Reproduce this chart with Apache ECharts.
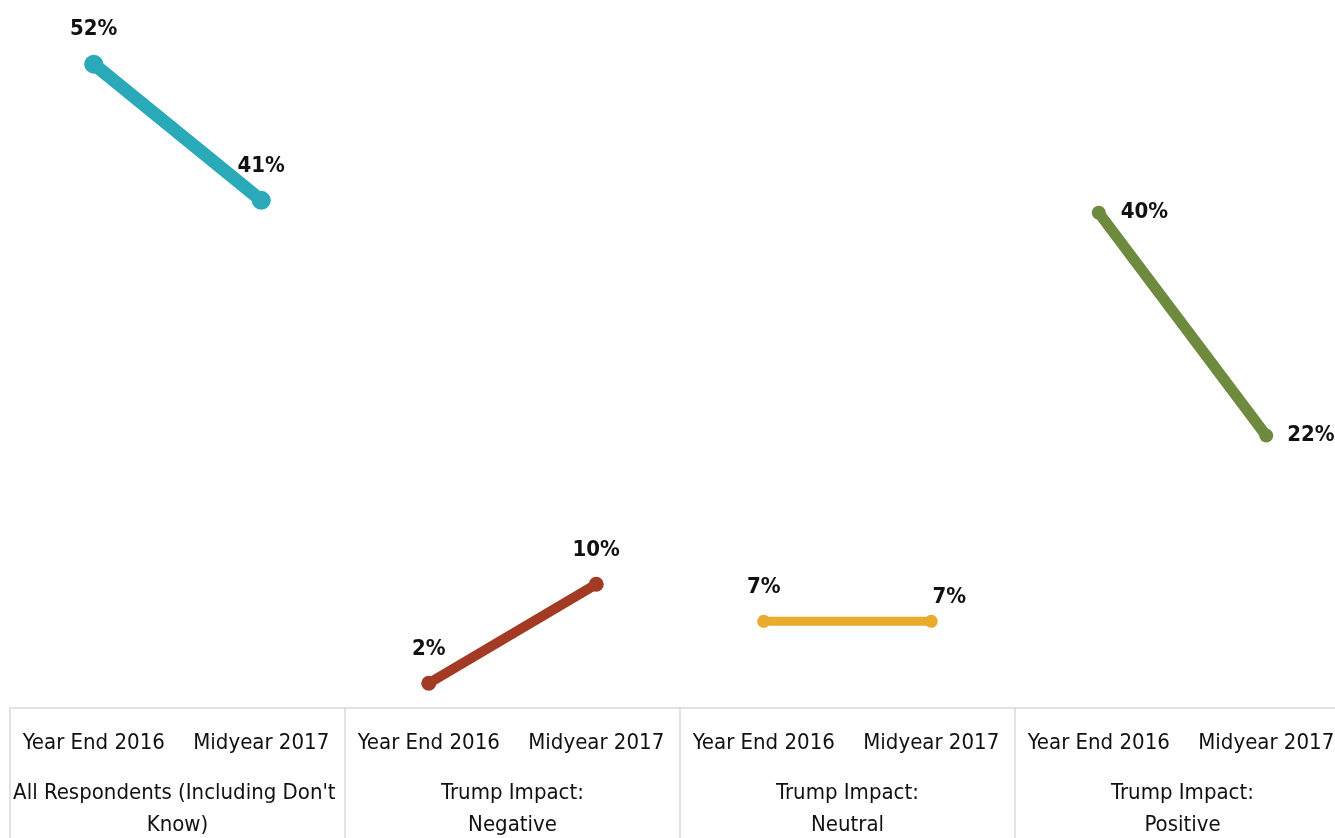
<!DOCTYPE html>
<html><head><meta charset="utf-8">
<script src="https://cdn.jsdelivr.net/npm/echarts@6/dist/echarts.min.js"></script>
<style>html,body{margin:0;padding:0;background:#fff}#c{width:1335px;height:838px}</style>
</head><body><div id="c"></div>
<script>
var periods = ['Year End 2016', 'Midyear 2017'];
var groups = ["All Respondents (Including Don't Know)", 'Trump Impact:\nNegative', 'Trump Impact:\nNeutral', 'Trump Impact:\nPositive'];
var allRespondents = [52, 41];
var trumpNegative = [2, 10];
var trumpNeutral = [7, 7];
var trumpPositive = [40, 22];

var seriesValues = [allRespondents, trumpNegative, trumpNeutral, trumpPositive];
var colors = ['#2aaab9', '#a33a24', '#eaaa2b', '#6e8a3e'];
var widths = [13, 10, 9, 11];
var sizes = [19, 15, 13, 14];
var labelCfg = [
  [{position:'top', distance:14}, {position:'top', distance:14}],
  [{position:'top', distance:15}, {position:'top', distance:15}],
  [{position:'top', distance:17}, {position:'top', distance:17, offset:[18,10]}],
  [{position:'right', distance:15}, {position:'right', distance:14}]
];
var FONT = "'Liberation Sans Narrow', 'DejaVu Sans Condensed'";

function draw() {
  var grids = [], xAxes = [], yAxes = [], series = [];
  for (var i = 0; i < 4; i++) {
    grids.push({left: 10 + 335 * i, width: 335, top: 27, bottom: 130, outerBoundsMode: 'none', containLabel: false});
    xAxes.push({
      type: 'category', gridIndex: i, data: periods, position: 'bottom',
      axisLine: {show: true, lineStyle: {color: '#d9d9d9', width: 1.5}},
      axisTick: {show: false},
      axisLabel: {color: '#111', fontFamily: FONT, fontSize: 22, margin: 19, lineHeight: 32, interval: 0, hideOverlap: false}
    });
    xAxes.push({
      type: 'category', gridIndex: i, data: [groups[i]], position: 'bottom',
      axisLine: {show: false},
      axisTick: {show: true, length: 135, inside: false, lineStyle: {color: '#d9d9d9', width: 1.5}},
      axisLabel: {color: '#111', fontFamily: FONT, fontSize: 22, margin: 69, lineHeight: 32, width: 330, overflow: 'break', interval: 0}
    });
    yAxes.push({type: 'value', gridIndex: i, min: 0, max: 55, show: false, splitLine: {show: false}});
    series.push({
      type: 'line', xAxisIndex: 2 * i, yAxisIndex: i,
      data: seriesValues[i].map(function (v, j) {
        return {value: v, label: labelCfg[i][j]};
      }),
      symbol: 'circle', symbolSize: sizes[i],
      lineStyle: {color: colors[i], width: widths[i], cap: 'round'},
      itemStyle: {color: colors[i]},
      label: {show: true, formatter: '{c}%', color: '#111', fontFamily: FONT, fontWeight: 'bold', fontSize: 22},
      silent: true, animation: false
    });
  }
  var chart = echarts.init(document.getElementById('c'));
  chart.setOption({
    backgroundColor: '#fff',
    animation: false,
    grid: grids, xAxis: xAxes, yAxis: yAxes, series: series
  });
}
if (document.fonts && document.fonts.load) {
  Promise.all([
    document.fonts.load("22px 'DejaVu Sans Condensed'"),
    document.fonts.load("bold 22px 'DejaVu Sans Condensed'")
  ]).then(draw, draw);
} else { draw(); }
</script></body></html>
